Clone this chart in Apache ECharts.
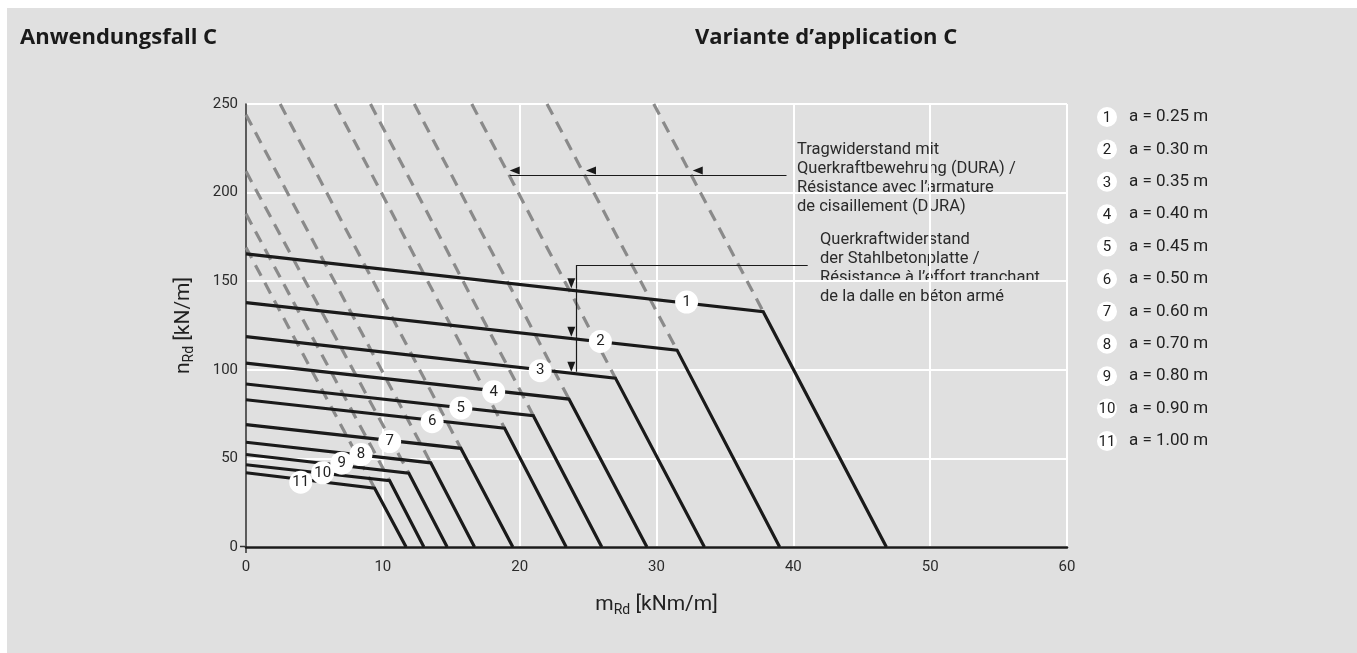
<!DOCTYPE html>
<html>
<head>
<meta charset="utf-8">
<script src="https://cdn.jsdelivr.net/npm/echarts@6/dist/echarts.min.js"></script>
<style>
html,body{margin:0;padding:0;background:#ffffff;}
#chart{width:1357px;height:653px;}
</style>
</head>
<body>
<div id="chart"></div>
<script>
// ---- data ----
const curveIds = ['1','2','3','4','5','6','7','8','9','10','11'];
const legendLabels = ['a = 0.25 m','a = 0.30 m','a = 0.35 m','a = 0.40 m','a = 0.45 m','a = 0.50 m','a = 0.60 m','a = 0.70 m','a = 0.80 m','a = 0.90 m','a = 1.00 m'];
// solid curves: start (m=0), knee, end (n=0)
const startN = [165.4, 137.9, 118.7, 103.8, 92.0, 83.1, 69.1, 59.1, 52.2, 46.4, 41.9];
const kneeM  = [37.8, 31.5, 27.0, 23.6, 21.0, 18.9, 15.7, 13.5, 11.9, 10.5, 9.4];
const kneeN  = [132.8, 111.1, 95.3, 83.5, 74.1, 67.0, 55.7, 47.5, 41.6, 37.4, 33.2];
const endM   = [46.8, 39.0, 33.5, 29.3, 26.0, 23.4, 19.5, 16.7, 14.7, 13.0, 11.7];
// dashed (DURA) lines: top end point, running down to the knee
const dashTopM = [29.8, 22.0, 16.5, 12.3, 9.1, 6.5, 2.5, 0, 0, 0, 0];
const dashTopN = [250, 250, 250, 250, 250, 250, 250, 244, 212, 188, 169];
// numbered marker positions on the curves
const markM = [32.2, 25.9, 21.5, 18.1, 15.7, 13.6, 10.5, 8.4, 7.0, 5.6, 4.0];
const markN = [138.2, 116.0, 99.5, 87.6, 78.4, 70.7, 59.5, 52.2, 47.3, 41.9, 36.6];
// axis ticks
const xTicks = [0, 10, 20, 30, 40, 50, 60];
const yTicks = [0, 50, 100, 150, 200, 250];
// annotation leader lines
const duraLeader = {startM: 39.5, n: 209.6, tipsM: [32.65, 24.85, 19.27]};
const slabLeader = {startM: 41.05, n: 159.1, m: 24.14, tipsN: [146.0, 118.6, 98.9]};
const duraText = ['Tragwiderstand mit', 'Querkraftbewehrung (DURA) /', 'Résistance avec l\u2019armature', 'de cisaillement (DURA)'];
const slabText = ['Querkraftwiderstand', 'der Stahlbetonplatte /', 'Résistance à l\u2019effort tranchant', 'de la dalle en béton armé'];

const FONT = 'Roboto, "Noto Sans", sans-serif';
const chart = echarts.init(document.getElementById('chart'), null, {renderer: 'canvas'});

const series = [];
// dashed lines first (below)
for (let i = 0; i < curveIds.length; i++) {
  series.push({
    type: 'line', name: 'dura' + curveIds[i], symbol: 'none', silent: true, z: 2,
    data: [[dashTopM[i], dashTopN[i]], [kneeM[i], kneeN[i]]],
    lineStyle: {color: '#8a8a8a', width: 3.2, type: [12, 8], cap: 'butt'}
  });
}
for (let i = 0; i < curveIds.length; i++) {
  series.push({
    type: 'line', name: 'curve' + curveIds[i], symbol: 'none', silent: true, z: 3,
    data: [[0, startN[i]], [kneeM[i], kneeN[i]], [endM[i], 0]],
    lineStyle: {color: '#1a1a1a', width: 3.2, join: 'miter'}
  });
}
// leader lines with arrow heads
const arrowStyle = {color: '#1a1a1a', width: 1.2, type: 'solid'};
const mlData = [];
let prev = duraLeader.startM;
duraLeader.tipsM.forEach(function (t) {
  mlData.push([{coord: [prev, duraLeader.n], symbol: 'none'}, {coord: [t, duraLeader.n], symbol: 'triangle'}]);
  prev = t;
});
mlData.push([{coord: [slabLeader.startM, slabLeader.n], symbol: 'none'}, {coord: [slabLeader.m, slabLeader.n], symbol: 'none'}]);
let prevN = slabLeader.n;
slabLeader.tipsN.forEach(function (t) {
  mlData.push([{coord: [slabLeader.m, prevN], symbol: 'none'}, {coord: [slabLeader.m, t], symbol: 'triangle'}]);
  prevN = t;
});
series.push({
  type: 'line', name: 'leaders', data: [], z: 4, silent: true,
  markLine: {
    silent: true, animation: false, symbolSize: [8, 10], symbolOffset: [0, 5],
    lineStyle: arrowStyle, itemStyle: {color: '#1a1a1a'}, label: {show: false},
    emphasis: {disabled: true},
    data: mlData
  }
});
// numbered markers
series.push({
  type: 'scatter', name: 'ids', z: 5, silent: true,
  symbol: 'circle', symbolSize: 23,
  itemStyle: {color: '#ffffff', opacity: 1},
  label: {show: true, position: 'inside', color: '#222', fontSize: 15, fontFamily: FONT,
          formatter: function (p) { return p.data[2]; }},
  data: curveIds.map(function (id, i) { return [markM[i], markN[i], id]; })
});

// graphics: background, titles, legend, annotation texts, origin ticks
const graphics = [
  {type: 'rect', z: -10, silent: true, shape: {x: 7, y: 8, width: 1350, height: 645}, style: {fill: '#e0e0e0'}},
  {type: 'text', x: 20, y: 38, silent: true, style: {text: 'Anwendungsfall C', font: 'bold 22px "Open Sans", sans-serif', fill: '#1a1a1a', verticalAlign: 'middle'}},
  {type: 'text', x: 695, y: 38, silent: true, style: {text: 'Variante d\u2019application C', font: 'bold 22px "Open Sans", sans-serif', fill: '#1a1a1a', verticalAlign: 'middle'}},
  {type: 'line', silent: true, shape: {x1: 240, y1: 546.5, x2: 246, y2: 546.5}, style: {stroke: '#333', lineWidth: 1.5}},
  {type: 'line', silent: true, shape: {x1: 246, y1: 546, x2: 246, y2: 553}, style: {stroke: '#333', lineWidth: 1.5}},
  {type: 'text', x: 797, y: 140, silent: true, style: {text: duraText.join('\n'), font: '16.5px ' + FONT, fill: '#2a2a2a', lineHeight: 19}},
  {type: 'text', x: 820, y: 230, silent: true, style: {text: slabText.join('\n'), font: '16.5px ' + FONT, fill: '#2a2a2a', lineHeight: 19}}
];
for (let i = 0; i < legendLabels.length; i++) {
  const cy = 117 + 32.4 * i;
  graphics.push({type: 'circle', silent: true, shape: {cx: 1107, cy: cy, r: 10}, style: {fill: '#ffffff'}});
  graphics.push({type: 'text', silent: true, x: 1107, y: cy + 1, style: {text: curveIds[i], font: '15px ' + FONT, fill: '#222', align: 'center', verticalAlign: 'middle'}});
  graphics.push({type: 'text', silent: true, x: 1129, y: cy, style: {text: legendLabels[i], font: '17px ' + FONT, fill: '#222', align: 'left', verticalAlign: 'middle'}});
}

const option = {
  animation: false,
  backgroundColor: '#ffffff',
  grid: {left: 246, right: 290, top: 104, bottom: 106, containLabel: false},
  xAxis: {
    type: 'value', min: xTicks[0], max: xTicks[xTicks.length - 1], interval: xTicks[1] - xTicks[0],
    name: '{m|m}{s|Rd}{m| [kNm/m]}', nameLocation: 'middle', nameGap: 45,
    nameTextStyle: {rich: {m: {fontSize: 21, fontFamily: FONT, color: '#222'}, s: {fontSize: 14, fontFamily: FONT, color: '#222', padding: [11, 0, 0, 0]}}},
    axisLine: {show: true, onZero: false, lineStyle: {color: '#1a1a1a', width: 2.5}},
    axisTick: {show: false},
    axisLabel: {color: '#2b2b2b', fontSize: 15, fontFamily: FONT, margin: 13},
    splitLine: {show: true, lineStyle: {color: '#ffffff', width: 2}}
  },
  yAxis: {
    type: 'value', min: yTicks[0], max: yTicks[yTicks.length - 1], interval: yTicks[1] - yTicks[0],
    name: '{m|n}{s|Rd}{m| [kN/m]}', nameLocation: 'middle', nameGap: 50, nameRotate: 90,
    nameTextStyle: {rich: {m: {fontSize: 21, fontFamily: FONT, color: '#222'}, s: {fontSize: 14, fontFamily: FONT, color: '#222', padding: [11, 0, 0, 0]}}},
    axisLine: {show: true, onZero: false, lineStyle: {color: '#333333', width: 1.6}},
    axisTick: {show: false},
    axisLabel: {color: '#2b2b2b', fontSize: 15, fontFamily: FONT, margin: 8},
    splitLine: {show: true, lineStyle: {color: '#ffffff', width: 2}}
  },
  graphic: graphics,
  series: series
};
chart.setOption(option);
</script>
</body>
</html>
